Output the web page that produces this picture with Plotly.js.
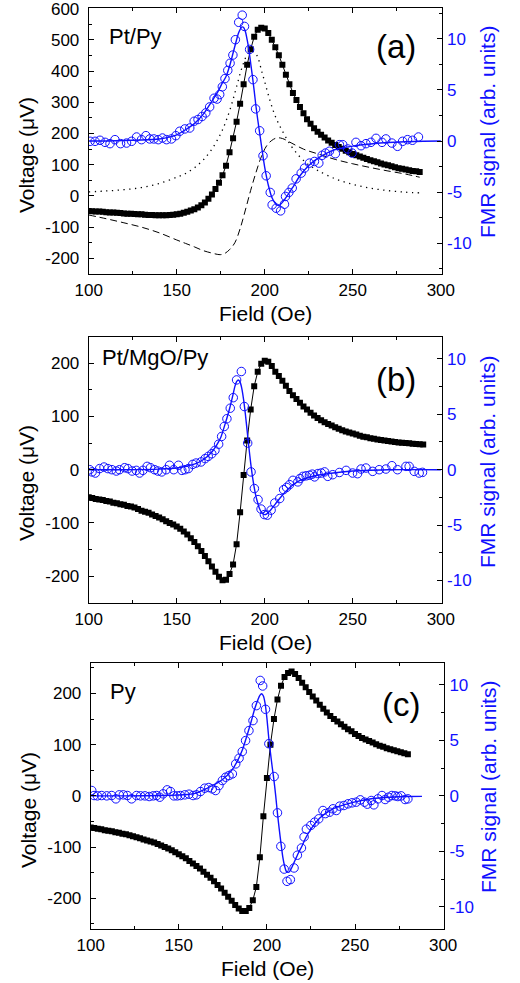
<!DOCTYPE html>
<html><head><meta charset="utf-8">
<script src="https://cdn.plot.ly/plotly-3.0.1.min.js"></script>
<style>html,body{margin:0;padding:0;background:#fff;}#chart{width:520px;height:983px;}</style>
</head><body><div id="chart"></div>
<script>
// ---------- Panel (a) Pt/Py ----------
const aField = [100,102,104,106,108,110,112,114,116,118,120,122,124,126,128,130,132,134,136,138,140,142,144,146,148,150,152,154,156,158,160,162,164,166,168,170,172,174,176,178,180,182,184,186,188,190,192,194,196,198,200,202,204,206,208,210,212,214,216,218,220,222,224,226,228,230,232,234,236,238,240,242,244,246,248,250,252,254,256,258,260,262,264,266,268,270,272,274,276,278,280,282,284,286,288];
const aVolt = [-48,-49,-50,-50,-51,-52,-53,-53,-54,-55,-56,-57,-57,-58,-59,-59,-60,-61,-61,-62,-62,-62,-62,-61,-60,-59,-57,-54,-51,-47,-43,-37,-30,-21,-9,5,22,42,66,97,140,185,238,295,358,420,470,510,532,539,536,522,500,476,451,420,388,358,330,307,285,265,246,231,217,206,196,187,178,170,163,157,151,145,140,134,130,126,122,118,114,111,108,104,101,98,95,92,89,87,85,82,80,79,77];
const aDotField = [100,110,120,130,140,150,155,160,165,170,175,178,181,184,187,190,192,194,196,198,200,203,206,210,215,220,225,230,240,250,260,270,280,288];
const aDotVolt = [13,16,20,27,40,60,72,90,115,150,200,240,290,350,410,452,463,462,445,405,365,305,255,208,160,125,100,82,55,37,25,17,12,10];
const aDashField = [100,110,120,130,140,150,155,160,165,170,173,175,177,180,183,186,189,192,195,198,201,204,207,210,215,222,230,240,250,260,270,280,288];
const aDashVolt = [-61,-73,-86,-100,-118,-141,-152,-163,-175,-183,-187,-188,-185,-172,-150,-105,-45,18,75,125,160,178,186,184,170,150,135,117,103,91,80,70,60];
const aCircField = [100.8,103.6,106.4,109.3,112.1,114.9,118.1,121.5,124.4,127.2,130,132.5,134.7,137,139.5,141.9,144.2,147,149.5,151.7,154.6,157.4,159.9,162.1,164.4,166.5,168.7,171.2,172.9,174.4,175.9,177.4,179,180.3,181.9,183.3,185.2,187.2,188.5,191.4,193.3,194.8,197.1,199,200.8,203.1,204.2,206.5,209,211.2,211.8,213.7,215.6,217.8,220.7,222.6,225.4,228.2,230.7,232.6,234.5,236.7,240.1,242.4,244.3,247.1,249.6,251.8,254.7,257.5,260.3,263.2,266.6,268.8,272.2,275.4,278.3,281.1,283.9,287.3];
const aCircFMR = [-0.03,-0.03,0.07,-0.13,-0.26,0.13,-0.26,-0.2,-0.03,0.39,0.13,0.52,0.2,0.2,0.13,0.29,0.13,0.2,0.52,0.95,1.18,1.27,1.93,2.1,2.4,2.75,3.33,4.18,4.1,4.54,5.3,6.1,6.9,7.6,8.4,9.9,11.6,12.3,11.2,8.95,6.0,3.14,1.0,-1.44,-3.4,-5.03,-6.24,-6.57,-6.83,-6.18,-5.42,-5.03,-4.6,-3.7,-3.14,-2.65,-2.16,-2.0,-2.16,-1.4,-1.18,-1.0,-1.24,-0.36,-0.36,-0.78,-1.18,-0.13,-0.46,-0.26,-0.13,0.26,-0.13,0.2,-0.2,-0.52,-0.03,0.13,0.07,0.39];
const aFitField = [100,110,120,130,140,145,150,155,160,165,170,173,176,178,180,182,184,185,186,187,188,189,190,191,192,193,194,195,196,197,198,199,200,201,202,204,206,208,210,213,216,220,225,230,235,240,245,250,260,270,280,290,300];
const aFitFMR = [0,0,0.05,0.1,0.2,0.35,0.6,1.1,1.7,2.6,3.9,4.7,5.7,6.3,7.3,8.6,9.9,10.5,10.9,11.15,11.1,10.7,9.9,8.9,7.6,6.3,4.9,3.4,2.1,0.9,-0.3,-1.5,-2.6,-3.5,-4.3,-5.5,-6.1,-6.3,-6.0,-5.3,-4.5,-3.4,-2.4,-1.7,-1.2,-0.85,-0.65,-0.5,-0.3,-0.15,-0.08,-0.03,0];

// ---------- Panel (b) Pt/MgO/Py ----------
const bField = [100,102,104,106,108,110,112,114,116,118,120,122,124,126,128,130,132,134,136,138,140,142,144,146,148,150,152,154,156,158,160,162,164,166,168,170,172,174,176,178,180,182,184,186,188,190,192,194,196,198,200,202,204,206,208,210,212,214,216,218,220,222,224,226,228,230,232,234,236,238,240,242,244,246,248,250,252,254,256,258,260,262,264,266,268,270,272,274,276,278,280,282,284,286,288,290];
const bVolt = [-52,-53,-55,-56,-57,-59,-60,-62,-63,-65,-66,-68,-69,-71,-74,-77,-79,-81,-84,-87,-90,-93,-97,-100,-103,-107,-111,-116,-122,-129,-136,-144,-153,-162,-172,-182,-192,-201,-208,-207,-196,-178,-140,-80,-10,55,113,157,184,199,205,203,195,184,176,167,158,148,140,133,126,119,113,107,102,97,93,89,86,83,80,77,74,72,70,68,66,64,62,61,59,58,57,56,55,54,53,52,51,50.5,50,49.5,49,48.5,48,47.5];
const bCircField = [100.55,101.9,103.8,106.2,108.7,110.9,113.2,115.7,117.5,120.4,122.3,124.7,127,128.9,130.8,133.2,135.1,137.4,139.3,141.5,144,145.9,148.3,151,152.9,154.7,156.6,159.1,161,163.8,166.1,167.9,169.9,171.7,173.8,175.5,177,178.5,180.4,182.1,184,186.7,188.4,190.3,192.2,194.1,196.2,197.9,199.8,201.5,203.6,205.7,208.5,210.7,212.4,214.1,216,218.8,220,221.7,223.5,225.4,227,228.3,230.2,232.1,234,235.8,238.6,242.4,246.2,249.9,252.7,254.7,257.5,261.3,265,268.8,272.2,275.4,280.2,282,284.9,287.7,289.6];
const bCircFMR = [0,-0.2,-0.3,0.1,0.24,0.1,0,-0.12,0,0.18,0.1,-0.12,-0.06,-0.3,-0.06,0.3,0.18,0,-0.12,-0.2,0,0.4,0,0.4,-0.06,0,0.1,0.48,0.6,0.7,1.0,1.2,1.44,1.74,2.3,3.0,3.9,4.6,5.55,6.5,8.1,8.86,5.7,2.4,-0.2,-1.7,-2.7,-3.55,-4.05,-4.1,-3.65,-3.0,-2.6,-1.8,-1.6,-1.35,-0.96,-1.1,-0.8,-0.6,-0.55,-0.5,-0.4,-0.65,-0.35,-0.3,-0.2,-0.6,-0.45,-0.25,-0.06,-0.3,-0.36,0.06,0.15,-0.15,0,0.06,0.36,0,0.3,0.3,-0.15,-0.3,-0.24];
const bFitField = [100,120,140,150,160,165,170,173,175,178,180,182,183,184,185,186,187,188,189,190,191,192,193,194,195,196,197,198,199,200,201,203,206,210,215,220,230,240,250,260,270,300];
const bFitFMR = [0,0,0.05,0.15,0.5,0.9,1.6,2.3,2.9,4.4,5.5,6.8,7.5,7.95,8.1,7.9,7.3,6.3,5.0,3.5,2.0,0.6,-0.6,-1.6,-2.4,-3.0,-3.5,-3.8,-4.0,-4.05,-4.0,-3.7,-3.1,-2.3,-1.5,-0.96,-0.5,-0.27,-0.12,-0.05,0,0];

// ---------- Panel (c) Py ----------
const cField = [100,102,104,106,108,110,112,114,116,118,120,122,124,126,128,130,132,134,136,138,140,142,144,146,148,150,152,154,156,158,160,162,164,166,168,170,172,174,176,178,180,182,184,186,188,190,192,194,196,198,200,202,204,206,208,210,212,214,216,218,220,222,224,226,228,230,232,234,236,238,240,242,244,246,248,250,252,254,256,258,260,262,264,266,268,270,272,274,276,278,280];
const cVolt = [-62,-63,-64,-65,-67,-68,-69,-71,-72,-74,-75,-77,-79,-81,-83,-85,-87,-89,-91,-94,-97,-100,-103,-106,-110,-114,-118,-122,-127,-132,-137,-142,-148,-154,-160,-167,-174,-181,-189,-197,-205,-213,-220,-225,-225,-219,-204,-178,-120,-40,35,100,150,188,215,232,240,243,238,230,221,212,203,194,186,178,170,163,156,150,145,140,135,130,126,121,117,113,110,107,104,101,98,96,93,91,89,87,85,83,81];
const cCircField = [100.6,101.9,103.8,106.2,109.1,111.9,114.3,116.2,118.5,120.8,123.2,126,128.3,130.8,133.2,135.5,137.4,139.2,141.1,143.4,145.3,147.2,149.1,150.9,153.4,155.8,158.1,160,162.3,164.7,167,169,170.9,172.8,174.7,176.6,178.5,180.4,182.3,184.2,186,187.9,189.8,192.1,194,196.2,197.6,199.2,201.1,204.1,206,207.9,209.8,211.4,213.3,215.4,217.3,219.6,221.1,222.4,224.9,227.1,229.4,231.8,233.2,235.6,237.5,239.4,241.3,243.7,246,248.3,250.7,253,255.4,257,259.2,260.7,263,265.3,267.1,269,270.9,272.8,274.3,276.2,278.4,280];
const cCircFMR = [0.48,0.03,0,0.03,0,0.03,-0.27,0.09,0.09,0.03,-0.27,0.03,0,0,-0.06,0,0.03,-0.12,0.18,0.54,0.39,0,0,0.03,0.09,0.15,0.03,0.09,0.39,0.69,0.75,0.63,0.48,0.93,1.38,1.68,1.83,1.98,2.88,3.39,3.99,4.98,5.88,6.78,8.13,10.4,9.9,7.8,4.7,1.74,-1.53,-4.55,-6.6,-7.7,-7.55,-6.5,-5.35,-4.7,-3.7,-3.0,-2.67,-2.37,-2.07,-1.32,-1.6,-1.47,-1.17,-1.32,-0.93,-0.87,-0.72,-0.63,-0.57,-0.36,-0.57,-0.75,-0.42,-0.81,-0.27,0.03,-0.33,-0.12,0.03,0,-0.06,0,-0.33,-0.27];
const cFitField = [100,120,140,150,155,160,165,170,175,180,183,186,189,191,193,195,196,197,198,199,200,201,202,203,204,205,206,207,208,209,210,211,212,213,214,216,218,220,222,225,230,235,240,250,260,270,280,288];
const cFitFMR = [0,0,0.03,0.07,0.12,0.24,0.6,1.0,1.5,2.3,3.06,4.1,5.6,6.65,7.8,8.7,9.05,9.2,9.0,8.3,7.0,5.3,3.9,2.6,1.4,0,-1.6,-3.0,-4.3,-5.5,-6.3,-6.8,-6.9,-6.8,-6.5,-5.8,-5.1,-4.5,-3.8,-3.0,-2.0,-1.4,-1.0,-0.54,-0.24,-0.12,-0.06,-0.05];

// ---------- Tick labels ----------
const fieldTicks = [100,150,200,250,300];
const voltTicksA = [-200,-100,0,100,200,300,400,500,600];
const voltTicksBC = [-200,-100,0,100,200];
const fmrTicks = [-10,-5,0,5,10];
const label = v => String(v); // hyphen minus, as in the original

// ---------- Styling ----------
const W = 520, H = 983;
const FONT = 'Liberation Sans, Arial, Helvetica, sans-serif';
const BLUE = '#1010ff';
const px = x => x / W;
const py = y => 1 - y / H;

function xAxis(dom, anchor) {
  return {domain: dom, anchor: anchor, range: [100, 300.5], tickmode: 'array', tickvals: fieldTicks,
    ticktext: fieldTicks.map(label), ticks: 'inside', ticklen: 5, tickwidth: 1, tickcolor: '#000',
    minor: {tickmode: 'linear', tick0: 100, dtick: 25, ticks: 'inside', ticklen: 3, tickcolor: '#000'},
    showline: true, linecolor: '#000', linewidth: 1, mirror: 'ticks', showgrid: false, zeroline: false,
    tickfont: {family: FONT, size: 17, color: '#000'}, ticklabelstandoff: 1, ticklabeloverflow: 'allow', fixedrange: true};
}
function yLeft(dom, anchor, range, ticks) {
  return {domain: dom, anchor: anchor, range: range, tickmode: 'array', tickvals: ticks,
    ticktext: ticks.map(label), ticks: 'inside', ticklen: 5, tickcolor: '#000',
    minor: {tickmode: 'linear', tick0: 0, dtick: 50, ticks: 'inside', ticklen: 3, tickcolor: '#000'},
    showline: true, linecolor: '#000', linewidth: 1, mirror: false, showgrid: false, zeroline: false,
    tickfont: {family: FONT, size: 17, color: '#000'}, ticklabelstandoff: 5, ticklabeloverflow: 'allow', fixedrange: true};
}
function yRight(over, anchor, range) {
  return {overlaying: over, side: 'right', anchor: anchor, range: range, tickmode: 'array', tickvals: fmrTicks,
    ticktext: fmrTicks.map(label), ticks: 'inside', ticklen: 5, tickcolor: '#000',
    minor: {tickmode: 'linear', tick0: 0, dtick: 2.5, ticks: 'inside', ticklen: 3, tickcolor: '#000'},
    showline: true, linecolor: '#000', linewidth: 1, showgrid: false, zeroline: false,
    tickfont: {family: FONT, size: 17, color: BLUE}, ticklabelstandoff: 1, ticklabeloverflow: 'allow', fixedrange: true};
}

const sq = (x, y, xa, ya) => ({x: x, y: y, xaxis: xa, yaxis: ya, type: 'scatter', mode: 'lines+markers',
  line: {color: '#000', width: 1}, marker: {symbol: 'square', size: 6, color: '#000'}, hoverinfo: 'skip'});
const circ = (x, y, xa, ya) => ({x: x, y: y, xaxis: xa, yaxis: ya, type: 'scatter', mode: 'markers',
  marker: {symbol: 'circle-open', size: 8.5, color: BLUE, line: {width: 1, color: BLUE}}, hoverinfo: 'skip'});
const fit = (x, y, xa, ya) => ({x: x, y: y, xaxis: xa, yaxis: ya, type: 'scatter', mode: 'lines',
  line: {color: BLUE, width: 1.4, shape: 'spline', smoothing: 0.6}, hoverinfo: 'skip'});

const traces = [
  {x: aDotField, y: aDotVolt, xaxis: 'x', yaxis: 'y', type: 'scatter', mode: 'lines',
   line: {color: '#000', width: 1.3, dash: '1.3px,4.5px', shape: 'spline'}, hoverinfo: 'skip'},
  {x: aDashField, y: aDashVolt, xaxis: 'x', yaxis: 'y', type: 'scatter', mode: 'lines',
   line: {color: '#000', width: 1, dash: '7px,4px', shape: 'spline'}, hoverinfo: 'skip'},
  sq(aField, aVolt, 'x', 'y'),
  fit(aFitField, aFitFMR, 'x', 'y2'),
  circ(aCircField, aCircFMR, 'x', 'y2'),
  sq(bField, bVolt, 'x2', 'y3'),
  fit(bFitField, bFitFMR, 'x2', 'y4'),
  circ(bCircField, bCircFMR, 'x2', 'y4'),
  sq(cField, cVolt, 'x3', 'y5'),
  fit(cFitField, cFitFMR, 'x3', 'y6'),
  circ(cCircField, cCircFMR, 'x3', 'y6')
];

const domXab = [px(88.7), px(441.7)];
const domXc = [px(90.7), px(444)];
const domYa = [py(274), py(8)];
const domYb = [py(602.7), py(336.7)];
const domYc = [py(929), py(662.7)];

function ann(text, x, y, size, opts) {
  return Object.assign({text: text, x: px(x), y: py(y), xref: 'paper', yref: 'paper', showarrow: false,
    font: {family: FONT, size: size, color: '#000'}, xanchor: 'center', yanchor: 'middle'}, opts || {});
}

const annotations = [
  ann('Pt/Py', 107, 36, 22, {xanchor: 'left'}),
  ann('(a)', 396, 46, 33),
  ann('Pt/MgO/Py', 100, 358, 22, {xanchor: 'left'}),
  ann('(b)', 396, 380, 33),
  ann('Py', 108, 691, 22, {xanchor: 'left'}),
  ann('(c)', 401, 704, 33),
  ann('Field (Oe)', 265, 313, 21),
  ann('Field (Oe)', 265, 642, 21),
  ann('Field (Oe)', 267, 968, 21),
  ann('Voltage (\u03bcV)', 27, 155, 21, {textangle: -90}),
  ann('Voltage (\u03bcV)', 27, 483, 21, {textangle: -90}),
  ann('Voltage (\u03bcV)', 28, 810, 21, {textangle: -90}),
  ann('FMR signal (arb. units)', 487, 132, 21, {textangle: -90, font: {family: FONT, size: 21, color: BLUE}}),
  ann('FMR signal (arb. units)', 487, 462, 21, {textangle: -90, font: {family: FONT, size: 21, color: BLUE}}),
  ann('FMR signal (arb. units)', 488, 787, 21, {textangle: -90, font: {family: FONT, size: 21, color: BLUE}})
];

const layout = {
  width: W, height: H, margin: {l: 0, r: 0, t: 0, b: 0}, showlegend: false,
  paper_bgcolor: '#fff', plot_bgcolor: 'rgba(0,0,0,0)',
  font: {family: FONT, size: 17, color: '#000'},
  xaxis: xAxis(domXab, 'y'),
  yaxis: yLeft(domYa, 'x', [-250, 602], voltTicksA),
  yaxis2: yRight('y', 'x', [-13, 13]),
  xaxis2: xAxis(domXab, 'y3'),
  yaxis3: yLeft(domYb, 'x2', [-250, 250], voltTicksBC),
  yaxis4: yRight('y3', 'x2', [-12, 12]),
  xaxis3: xAxis(domXc, 'y5'),
  yaxis5: yLeft(domYc, 'x3', [-260, 260], voltTicksBC),
  yaxis6: yRight('y5', 'x3', [-12, 12]),
  annotations: annotations
};

Plotly.newPlot('chart', traces, layout, {staticPlot: true, displayModeBar: false});
</script>
</body></html>
